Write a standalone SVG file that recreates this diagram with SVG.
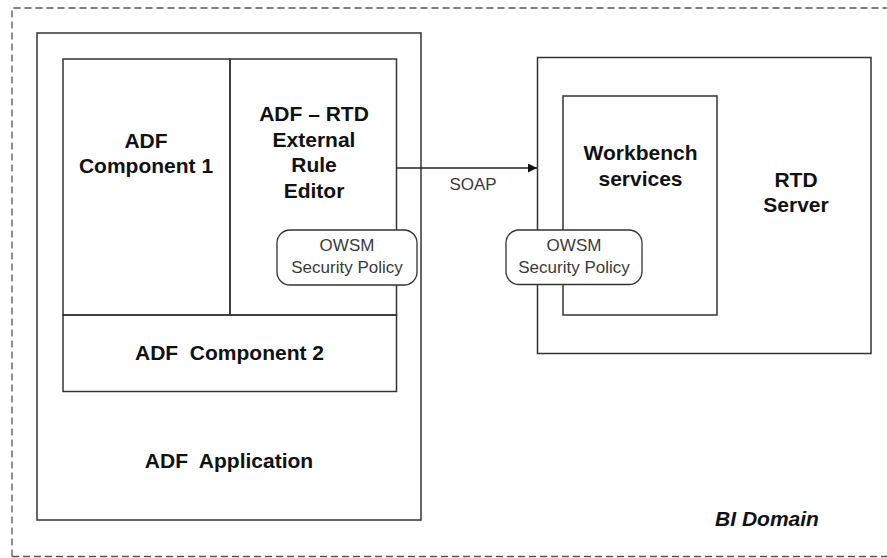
<svg xmlns="http://www.w3.org/2000/svg" width="887" height="558" viewBox="0 0 887 558">
<style>
.box{fill:none;stroke:#333;stroke-width:1.5}
.wbox{fill:#fff;stroke:#333;stroke-width:1.5}
.pol{fill:#fff;stroke:#333;stroke-width:1.3}
.b{font-family:"Liberation Sans",Arial,sans-serif;font-weight:bold;font-size:21px;fill:#111;text-anchor:middle}
.r{font-family:"Liberation Sans",Arial,sans-serif;font-size:17px;fill:#3a3a3a;text-anchor:middle}
.bi{font-family:"Liberation Sans",Arial,sans-serif;font-weight:bold;font-style:italic;font-size:21px;fill:#111;text-anchor:middle}
</style>
<defs>
<marker id="arr" markerWidth="9" markerHeight="9" refX="9" refY="4.5" orient="auto" markerUnits="userSpaceOnUse">
<path d="M0,0 L9,4.5 L0,9 Z" fill="#111"/>
</marker>
</defs>
<rect width="887" height="558" fill="#fff"/>
<g id="bi-domain">
<path d="M12,556.5 L12,8 L892,8 M12,556.5 L892,556.5" fill="none" stroke="#555" stroke-width="1.3" stroke-dasharray="7,4"/>
<text class="bi" x="767" y="526">BI Domain</text>
</g>
<g id="adf-application">
<rect class="box" x="37" y="33" width="384" height="487"/>
<text class="b" x="229" y="468" xml:space="preserve">ADF  Application</text>
</g>
<g id="adf-component-1">
<rect class="box" x="63" y="59" width="167" height="256"/>
<text class="b" x="146" y="148">ADF</text>
<text class="b" x="146" y="173">Component 1</text>
</g>
<g id="rule-editor">
<rect class="box" x="230" y="59" width="166.5" height="256"/>
<text class="b" x="314" y="121">ADF – RTD</text>
<text class="b" x="314" y="147">External</text>
<text class="b" x="314" y="172">Rule</text>
<text class="b" x="314" y="198">Editor</text>
</g>
<g id="adf-component-2">
<rect class="box" x="63" y="315" width="333.5" height="76.5"/>
<text class="b" x="229.5" y="360" xml:space="preserve">ADF  Component 2</text>
</g>
<g id="rtd-server">
<rect class="box" x="537.5" y="57.5" width="333.5" height="296"/>
<text class="b" x="796" y="187">RTD</text>
<text class="b" x="796" y="212">Server</text>
</g>
<g id="workbench-services">
<rect class="box" x="563" y="96" width="154" height="219"/>
<text class="b" x="640.5" y="160">Workbench</text>
<text class="b" x="640.5" y="186">services</text>
</g>
<g id="connectors">
<line x1="396.5" y1="168" x2="537" y2="168" stroke="#222" stroke-width="1.3" marker-end="url(#arr)"/>
<text class="r" x="473" y="190">SOAP</text>
</g>
<g id="owsm-policy-1">
<rect class="pol" x="277" y="230" width="140" height="55" rx="13" ry="13"/>
<text class="r" x="347" y="251">OWSM</text>
<text class="r" x="347" y="273">Security Policy</text>
</g>
<g id="owsm-policy-2">
<rect class="pol" x="506" y="230" width="136" height="54.5" rx="13" ry="13"/>
<text class="r" x="574" y="251">OWSM</text>
<text class="r" x="574" y="273">Security Policy</text>
</g>
</svg>
